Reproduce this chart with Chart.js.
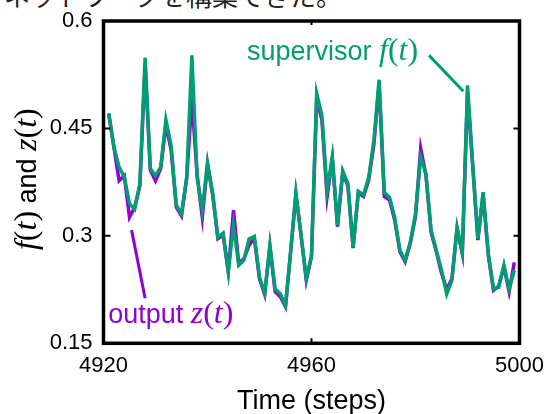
<!DOCTYPE html>
<html>
<head>
<meta charset="utf-8">
<script src="https://cdn.jsdelivr.net/npm/chart.js@4.4.0/dist/chart.umd.min.js"></script>
<style>
  html, body { margin: 0; padding: 0; background: #fff; overflow: hidden; }
  #wrap { position: relative; width: 547px; height: 414px; overflow: hidden; }
  #caption {
    position: absolute; left: 4px; top: -18px; white-space: nowrap;
    font: 26px/26px "Noto Sans CJK JP", sans-serif; color: #222;
  }
  canvas { position: absolute; left: 0; top: 0; }
</style>
</head>
<body>
<div id="wrap">
  <div id="caption">ネットワークを構築できた。</div>
  <canvas id="grafico" width="547" height="414"></canvas>
</div>
<script>
// datos: un punto por paso, desde 4921
const firstStep = 4921;
const supervisor = [
  0.471, 0.424, 0.396, 0.382, 0.345, 0.337, 0.373, 0.549, 0.394, 0.384,
  0.396, 0.462, 0.426, 0.343, 0.331, 0.382, 0.552, 0.382, 0.336, 0.402,
  0.359, 0.298, 0.304, 0.250, 0.315, 0.259, 0.266, 0.296, 0.299, 0.243,
  0.220, 0.287, 0.226, 0.219, 0.203, 0.280, 0.360, 0.301, 0.240, 0.273,
  0.499, 0.468, 0.364, 0.410, 0.315, 0.391, 0.373, 0.284, 0.362, 0.357,
  0.382, 0.433, 0.518, 0.361, 0.354, 0.326, 0.280, 0.266, 0.291, 0.331,
  0.410, 0.387, 0.308, 0.280, 0.252, 0.219, 0.238, 0.312, 0.277, 0.510,
  0.400, 0.296, 0.361, 0.275, 0.226, 0.228, 0.259, 0.226, 0.252
];
const output = [
  0.471, 0.424, 0.377, 0.384, 0.326, 0.340, 0.370, 0.540, 0.392, 0.377,
  0.394, 0.455, 0.420, 0.340, 0.328, 0.380, 0.492, 0.385, 0.326, 0.400,
  0.357, 0.296, 0.301, 0.250, 0.336, 0.262, 0.268, 0.287, 0.297, 0.240,
  0.218, 0.285, 0.222, 0.215, 0.201, 0.278, 0.358, 0.300, 0.238, 0.271,
  0.492, 0.462, 0.355, 0.408, 0.313, 0.388, 0.370, 0.283, 0.360, 0.355,
  0.378, 0.428, 0.512, 0.355, 0.350, 0.322, 0.278, 0.264, 0.290, 0.327,
  0.422, 0.385, 0.305, 0.278, 0.248, 0.225, 0.240, 0.310, 0.275, 0.500,
  0.398, 0.294, 0.358, 0.273, 0.224, 0.230, 0.257, 0.222, 0.263
];
const xTicks = [4920, 4960, 5000];
const yTicks = [0.15, 0.3, 0.45, 0.6];
const xInnerTicks = [4960];
const yInnerTicks = [0.3, 0.45];

const green = '#009E73';
const purple = '#9400D3';
const sans = '"Liberation Sans", Arial, sans-serif';
const serif = '"Liberation Serif", "Times New Roman", serif';

// etiquetas y flechas en unidades de datos
const supervisorLabel = { x: 4947.6, y: 0.546 };
const supervisorArrow = [{ x: 4982.6, y: 0.552 }, { x: 4989.2, y: 0.502 }];
const outputLabel = { x: 4920.9, y: 0.178 };
const outputArrow = [{ x: 4925.4, y: 0.308 }, { x: 4928.0, y: 0.213 }];

function toPoints(values) {
  return values.map((v, i) => ({ x: firstStep + i, y: v }));
}

function mathParts(name, color, size) {
  return [
    { text: name, font: 'italic ' + size + 'px ' + serif, color },
    { text: '(', font: size + 'px ' + serif, color },
    { text: 't', font: 'italic ' + size + 'px ' + serif, color },
    { text: ')', font: size + 'px ' + serif, color }
  ];
}

function drawRich(ctx, parts, x, y, align) {
  let w = 0;
  parts.forEach(p => { ctx.font = p.font; w += ctx.measureText(p.text).width; });
  let cx = align === 'center' ? x - w / 2 : x;
  parts.forEach(p => {
    ctx.font = p.font;
    ctx.fillStyle = p.color;
    ctx.fillText(p.text, cx, y);
    cx += ctx.measureText(p.text).width;
  });
}

const marco = {
  id: 'marco',
  afterDraw(chart) {
    const { ctx, chartArea: a, scales: { x, y } } = chart;
    ctx.save();
    ctx.strokeStyle = '#000';
    ctx.lineWidth = 2;
    ctx.beginPath();
    yInnerTicks.forEach(v => {
      const py = y.getPixelForValue(v);
      ctx.moveTo(a.left, py); ctx.lineTo(a.left + 7, py);
      ctx.moveTo(a.right, py); ctx.lineTo(a.right - 6, py);
    });
    xInnerTicks.forEach(v => {
      const px = x.getPixelForValue(v);
      ctx.moveTo(px, a.top); ctx.lineTo(px, a.top + 4);
      ctx.moveTo(px, a.bottom); ctx.lineTo(px, a.bottom - 5);
    });
    ctx.stroke();
    ctx.lineWidth = 3.5;
    ctx.strokeRect(a.left, a.top, a.right - a.left, a.bottom - a.top);

    // flechas de anotación
    ctx.lineWidth = 3;
    ctx.strokeStyle = green;
    ctx.beginPath();
    ctx.moveTo(x.getPixelForValue(supervisorArrow[0].x), y.getPixelForValue(supervisorArrow[0].y));
    ctx.lineTo(x.getPixelForValue(supervisorArrow[1].x), y.getPixelForValue(supervisorArrow[1].y));
    ctx.stroke();
    ctx.strokeStyle = purple;
    ctx.beginPath();
    ctx.moveTo(x.getPixelForValue(outputArrow[0].x), y.getPixelForValue(outputArrow[0].y));
    ctx.lineTo(x.getPixelForValue(outputArrow[1].x), y.getPixelForValue(outputArrow[1].y));
    ctx.stroke();

    ctx.textBaseline = 'alphabetic';
    drawRich(ctx, [{ text: 'supervisor ', font: '27px ' + sans, color: green }].concat(mathParts('f', green, 32)),
      x.getPixelForValue(supervisorLabel.x), y.getPixelForValue(supervisorLabel.y), 'left');
    drawRich(ctx, [{ text: 'output ', font: '27px ' + sans, color: purple }].concat(mathParts('z', purple, 32)),
      x.getPixelForValue(outputLabel.x), y.getPixelForValue(outputLabel.y), 'left');

    // títulos de ejes
    drawRich(ctx, [{ text: 'Time (steps)', font: '27px ' + sans, color: '#000' }],
      (a.left + a.right) / 2, 409, 'center');
    ctx.translate(36, (a.top + a.bottom) / 2 - 3);
    ctx.rotate(-Math.PI / 2);
    drawRich(ctx, mathParts('f', '#000', 32)
      .concat([{ text: ' and ', font: '27px ' + sans, color: '#000' }])
      .concat(mathParts('z', '#000', 32)), 0, 0, 'center');
    ctx.restore();
  }
};

new Chart(document.getElementById('grafico'), {
  type: 'line',
  data: {
    datasets: [
      {
        label: 'supervisor f(t)',
        data: toPoints(supervisor),
        borderColor: green,
        borderWidth: 3.5,
        pointRadius: 0,
        tension: 0
      },
      {
        label: 'output z(t)',
        data: toPoints(output),
        borderColor: purple,
        borderWidth: 3.5,
        pointRadius: 0,
        tension: 0
      }
    ]
  },
  options: {
    responsive: false,
    animation: false,
    devicePixelRatio: 1,
    layout: { padding: { top: 21, right: 27.5, left: 0, bottom: 0 } },
    plugins: { legend: { display: false }, tooltip: { enabled: false } },
    scales: {
      x: {
        type: 'linear',
        min: 4920,
        max: 5000,
        afterBuildTicks: s => { s.ticks = xTicks.map(v => ({ value: v })); },
        afterFit: s => { s.height = 414 - 343.3; s.paddingLeft = 0; s.paddingRight = 0; },
        grid: { display: false, drawTicks: false },
        border: { display: false },
        ticks: {
          color: '#000', font: { family: sans, size: 22 }, padding: 9, maxRotation: 0, autoSkip: false,
          callback: v => String(v)
        }
      },
      y: {
        min: 0.15,
        max: 0.6,
        afterBuildTicks: s => { s.ticks = yTicks.map(v => ({ value: v })); },
        afterFit: s => { s.width = 103.5; s.paddingTop = 0; s.paddingBottom = 0; },
        grid: { display: false, drawTicks: false },
        border: { display: false },
        ticks: {
          color: '#000', font: { family: sans, size: 22 }, padding: 11,
          callback: v => String(+v.toFixed(2))
        }
      }
    }
  },
  plugins: [marco]
});
</script>
</body>
</html>
